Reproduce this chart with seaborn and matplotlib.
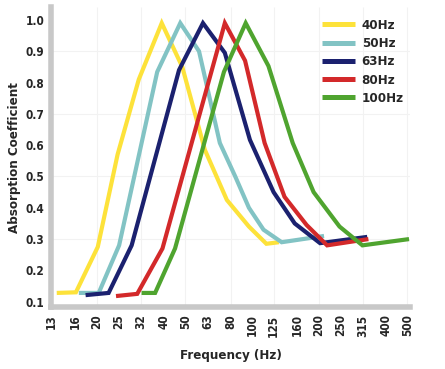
import matplotlib
matplotlib.use("Agg")
import matplotlib.pyplot as plt
import seaborn as sns
import pandas as pd

# frequency axis (1/3 octave bands)
freq_ticks = [12.5, 16, 20, 25, 31.5, 40, 50, 63, 80, 100, 125, 160, 200, 250, 315, 400, 500]
tick_labels = ['13', '16', '20', '25', '32', '40', '50', '63', '80', '100',
               '125', '160', '200', '250', '315', '400', '500']
grid_freqs = [20, 31.5, 50, 80, 125, 200, 315, 500]
y_ticks = [0.1, 0.2, 0.3, 0.4, 0.5, 0.6, 0.7, 0.8, 0.9, 1.0]

# absorption curves
f40 = [13.2, 16.1, 20.2, 24.8, 30.9, 39.2, 48.5, 61.3, 77, 96.8, 116, 132]
a40 = [0.128, 0.13, 0.275, 0.57, 0.81, 0.99, 0.85, 0.585, 0.425, 0.34, 0.285, 0.29]

f50 = [16.6, 20.4, 25.2, 37.4, 47.5, 57.7, 71.6, 84, 96.8, 112.6, 135.9, 210.9]
a50 = [0.128, 0.128, 0.28, 0.834, 0.99, 0.90, 0.607, 0.50, 0.40, 0.33, 0.29, 0.31]

f63 = [17.8, 22.6, 28.7, 46.9, 60.1, 75.4, 97.8, 125, 155.6, 202.4, 330]
a63 = [0.121, 0.128, 0.28, 0.84, 0.99, 0.895, 0.617, 0.45, 0.35, 0.287, 0.307]

f80 = [24.4, 30.4, 39.5, 75.4, 93, 113.9, 140, 176, 217.7, 334]
a80 = [0.118, 0.125, 0.27, 0.99, 0.87, 0.607, 0.435, 0.345, 0.28, 0.30]

f100 = [31.8, 36.6, 45, 74.7, 93.6, 118.5, 152.4, 189.3, 247.6, 314, 509]
a100 = [0.128, 0.128, 0.27, 0.834, 0.99, 0.853, 0.607, 0.45, 0.34, 0.28, 0.30]

series = ['40Hz', '50Hz', '63Hz', '80Hz', '100Hz']
colors = ['#fde23a', '#82c3c4', '#1b216f', '#d3292a', '#4fa42f']

rows = []
for name, fs, vals in zip(series, [f40, f50, f63, f80, f100], [a40, a50, a63, a80, a100]):
    for f, v in zip(fs, vals):
        rows.append({'freq': f, 'coef': v, 'band': name})
df = pd.DataFrame(rows)

sns.set_style('white')
plt.rcParams['font.family'] = ['DejaVu Sans']
plt.rcParams['font.stretch'] = 'condensed'
plt.rcParams['font.weight'] = 'bold'

fig = plt.figure(figsize=(4.45, 3.69), dpi=100)
ax = fig.add_axes([0.1157, 0.1667, 0.8056, 0.8144])

for f in grid_freqs:
    ax.axvline(f, color='#f2f2f2', lw=0.8, zorder=0)
for y in [0.3, 0.5, 0.7, 0.9]:
    ax.axhline(y, color='#f2f2f2', lw=0.8, zorder=0)

sns.lineplot(data=df, x='freq', y='coef', hue='band', hue_order=series,
             palette=dict(zip(series, colors)), lw=3.0, sort=False,
             estimator=None, ax=ax, legend=True)
for ln in ax.get_lines():
    ln.set_solid_joinstyle('miter')
    ln.set_solid_capstyle('butt')

ax.set_xscale('log')
ax.set_xlim(12.5, 514)
ax.set_ylim(0.0815, 1.0415)
ax.set_xticks(freq_ticks)
ax.set_xticklabels(tick_labels, rotation=90)
ax.minorticks_off()
ax.set_yticks(y_ticks)
ax.set_yticklabels([f'{v:.1f}' for v in y_ticks])
ax.tick_params(axis='both', length=0, labelsize=8.5, pad=5)

for side in ['top', 'right']:
    ax.spines[side].set_visible(False)
for side in ['left', 'bottom']:
    ax.spines[side].set_color('#c8c8c8')
    ax.spines[side].set_linewidth(4)

ax.set_xlabel('Frequency (Hz)', fontsize=9.5, fontweight='bold')
ax.set_ylabel('Absorption Coefficient', fontsize=9.5, fontweight='bold')
ax.xaxis.set_label_coords(0.5, -0.138)
ax.yaxis.set_label_coords(-0.085, 0.5)

handles, labels = ax.get_legend_handles_labels()
leg = ax.legend(handles, labels, loc='upper left', bbox_to_anchor=(0.697, 0.981),
                bbox_transform=fig.transFigure, frameon=False, fontsize=9.5,
                handlelength=2.5, handletextpad=0.5, labelspacing=0.4)
for h in leg.get_lines():
    h.set_linewidth(3.6)

fig.savefig('out.png', dpi=100)
